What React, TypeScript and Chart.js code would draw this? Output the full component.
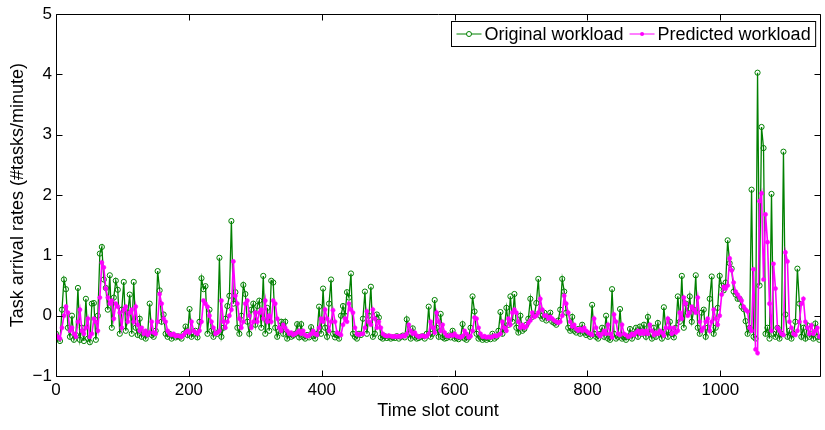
import React, { useEffect, useRef } from "react";
import { Chart, registerables } from "chart.js";

Chart.register(...registerables);

// One value every SLOT_STEP time slots (slot 0 .. 1149)
const SLOT_STEP = 3;

const originalWorkload = [
  -0.30, -0.38, -0.42, 0.10, 0.60, 0.44, -0.20, -0.35, 0.00, -0.40,
  -0.32, 0.46, -0.40, -0.20, -0.42, 0.28, -0.38, -0.44, 0.20, 0.21,
  -0.40, 0.00, 1.03, 1.14, 0.60, 0.46, 0.10, 0.67, -0.20, 0.30,
  0.58, 0.43, -0.30, 0.10, 0.56, -0.25, 0.05, 0.35, -0.30, 0.56,
  -0.20, -0.32, -0.05, -0.35, -0.28, -0.38, -0.30, 0.20, -0.32, -0.35,
  -0.25, 0.74, 0.42, -0.10, 0.02, -0.30, -0.35, -0.30, -0.38, -0.33,
  -0.36, -0.34, -0.35, -0.38, -0.30, -0.18, -0.32, 0.11, -0.35, -0.30,
  -0.25, -0.36, -0.10, 0.62, 0.44, 0.49, -0.30, 0.10, -0.25, -0.35,
  -0.28, -0.30, 0.96, -0.35, -0.20, -0.05, 0.16, 0.33, 1.57, 0.20,
  0.39, -0.20, -0.30, 0.00, 0.51, 0.36, -0.10, -0.30, 0.10, 0.20,
  -0.15, 0.16, 0.25, -0.20, 0.66, -0.30, 0.13, -0.25, 0.58, 0.55,
  -0.20, -0.35, -0.25, -0.10, -0.30, -0.10, -0.38, -0.30, -0.35, -0.33,
  -0.30, -0.14, -0.36, -0.14, -0.35, -0.38, -0.32, -0.36, -0.19, -0.34,
  -0.38, -0.30, 0.15, -0.30, 0.45, -0.20, -0.35, 0.20, 0.60, -0.30,
  -0.36, -0.32, -0.38, 0.00, 0.16, 0.00, 0.39, 0.30, 0.70, -0.30,
  -0.35, -0.38, -0.30, -0.32, -0.05, 0.40, -0.30, 0.00, 0.48, -0.35,
  -0.30, 0.02, -0.03, -0.36, -0.38, -0.34, -0.37, -0.35, -0.38, -0.36,
  -0.37, -0.34, -0.38, -0.35, -0.33, -0.36, -0.06, -0.30, -0.38, -0.21,
  -0.35, -0.38, -0.37, -0.35, -0.34, -0.38, -0.30, 0.15, -0.35, -0.30,
  0.26, -0.20, -0.35, 0.03, -0.36, -0.38, -0.37, -0.33, -0.36, -0.25,
  -0.38, -0.37, -0.39, -0.36, -0.14, -0.38, -0.40, -0.36, -0.20, 0.32,
  0.07, -0.30, -0.38, -0.36, -0.40, -0.38, -0.40, -0.37, -0.39, -0.30,
  -0.38, -0.35, -0.25, 0.06, -0.30, -0.20, 0.13, -0.15, 0.32, -0.10,
  0.36, -0.20, -0.28, 0.00, -0.25, -0.22, -0.15, -0.05, 0.28, -0.02,
  0.00, 0.21, 0.61, 0.00, -0.05, 0.05, -0.08, -0.02, 0.05, -0.10,
  -0.12, -0.15, -0.08, 0.10, 0.61, 0.40, 0.05, -0.20, -0.25, -0.02,
  -0.25, -0.28, -0.22, -0.30, -0.15, -0.28, -0.32, -0.30, -0.35, 0.18,
  -0.30, -0.35, -0.38, -0.30, -0.20, -0.35, 0.00, -0.38, -0.40, 0.44,
  -0.30, -0.38, -0.35, 0.11, -0.38, -0.36, -0.40, -0.35, -0.22, -0.38,
  -0.30, -0.20, -0.35, -0.18, -0.30, -0.15, -0.35, -0.02, -0.30, -0.38,
  -0.20, -0.35, -0.12, -0.30, -0.38, 0.14, -0.25, -0.35, -0.10, -0.30,
  -0.36, -0.20, 0.32, -0.10, 0.66, -0.20, 0.20, 0.05, 0.32, -0.10,
  0.10, 0.67, -0.20, -0.30, 0.05, 0.10, -0.35, -0.20, 0.28, 0.65,
  -0.30, -0.20, 0.13, 0.66, 0.50, 0.42, 0.55, 1.25, 0.87, 0.78,
  0.40, 0.35, 0.28, 0.28, 0.15, 0.11, -0.09, -0.30, -0.20, 2.09,
  -0.35, -0.38, 4.03, 0.50, 3.13, 2.78, -0.30, -0.20, -0.38, 2.02,
  -0.30, -0.35, -0.20, -0.38, -0.30, 2.72, 0.02, -0.35, -0.25, -0.38,
  -0.30, -0.10, 0.78, 0.20, -0.35, -0.20, -0.38, -0.16, -0.35, -0.30,
  -0.38, -0.13, -0.35, -0.40,
];

const predictedWorkload = [
  -0.32, -0.35, -0.38, -0.20, 0.00, 0.15, 0.05, -0.25, -0.20, -0.30,
  -0.35, -0.10, 0.10, -0.25, -0.30, -0.20, -0.05, -0.35, -0.30, -0.05,
  -0.10, -0.25, 0.30, 0.88, 0.80, 0.45, 0.30, 0.20, 0.25, -0.05,
  0.20, 0.15, 0.05, -0.20, 0.10, 0.15, -0.10, 0.05, 0.10, -0.10,
  0.15, -0.15, -0.25, -0.20, -0.30, -0.25, -0.32, -0.28, -0.10, -0.28,
  -0.30, -0.10, 0.36, 0.20, -0.05, -0.10, -0.25, -0.30, -0.32, -0.30,
  -0.34, -0.33, -0.34, -0.35, -0.32, -0.28, -0.25, -0.28, -0.10, -0.25,
  -0.28, -0.30, -0.25, -0.10, 0.25, 0.20, 0.15, 0.00, -0.10, -0.20,
  -0.30, -0.28, -0.25, 0.25, -0.10, -0.20, -0.10, 0.00, 0.10, 0.90,
  0.33, 0.20, -0.05, -0.20, -0.10, 0.20, 0.25, 0.00, -0.20, -0.10,
  0.05, -0.10, 0.05, 0.10, -0.05, 0.25, -0.10, 0.00, -0.10, 0.25,
  0.20, -0.05, -0.20, -0.25, -0.15, -0.20, -0.25, -0.30, -0.28, -0.32,
  -0.30, -0.28, -0.25, -0.30, -0.25, -0.32, -0.34, -0.33, -0.30, -0.25,
  -0.30, -0.32, -0.20, -0.05, -0.10, 0.10, -0.05, -0.25, -0.10, 0.09,
  -0.10, -0.28, -0.30, -0.32, -0.15, -0.05, -0.10, 0.20, 0.10, 0.05,
  -0.20, -0.30, -0.32, -0.30, -0.30, -0.20, 0.07, -0.10, -0.15, 0.10,
  -0.05, -0.20, -0.10, -0.20, -0.30, -0.33, -0.34, -0.33, -0.34, -0.35,
  -0.34, -0.35, -0.34, -0.35, -0.33, -0.34, -0.30, -0.15, -0.25, -0.30,
  -0.28, -0.33, -0.35, -0.34, -0.33, -0.35, -0.34, -0.30, -0.10, -0.20,
  -0.28, 0.05, -0.10, -0.25, -0.15, -0.28, -0.33, -0.34, -0.32, -0.33,
  -0.30, -0.34, -0.35, -0.36, -0.34, -0.25, -0.30, -0.36, -0.34, -0.25,
  -0.03, -0.05, -0.20, -0.30, -0.35, -0.34, -0.36, -0.35, -0.36, -0.35,
  -0.33, -0.34, -0.32, -0.30, -0.10, -0.20, -0.25, -0.05, -0.15, 0.05,
  0.10, 0.05, -0.10, -0.20, -0.15, -0.20, -0.18, -0.12, -0.08, 0.05,
  -0.02, 0.00, 0.05, 0.28, 0.10, 0.00, 0.00, -0.05, -0.02, -0.05,
  -0.08, -0.10, -0.12, -0.10, 0.00, 0.33, 0.20, 0.05, -0.10, -0.18,
  -0.15, -0.22, -0.25, -0.22, -0.25, -0.20, -0.25, -0.28, -0.30, -0.32,
  -0.05, -0.20, -0.30, -0.34, -0.30, -0.25, -0.30, -0.15, -0.30, -0.36,
  0.02, -0.10, -0.30, -0.32, -0.15, -0.30, -0.32, -0.35, -0.34, -0.30,
  -0.32, -0.28, -0.25, -0.30, -0.25, -0.30, -0.25, -0.30, -0.15, -0.25,
  -0.32, -0.28, -0.30, -0.25, -0.28, -0.33, -0.20, -0.05, -0.20, -0.30,
  -0.20, -0.28, -0.25, 0.05, -0.05, 0.30, 0.20, 0.00, 0.05, 0.15,
  0.10, 0.05, 0.30, -0.10, -0.25, -0.20, -0.10, -0.05, -0.25, -0.10,
  0.10, -0.05, -0.15, 0.00, 0.35, 0.48, 0.45, 0.50, 0.95, 0.75,
  0.55, 0.40, 0.35, 0.30, 0.25, 0.15, 0.10, 0.07, -0.20, -0.25,
  0.77, -0.56, -0.62, 1.90, 2.03, 0.60, 1.68, 1.22, 0.20, -0.25,
  0.86, 0.45, -0.20, -0.25, -0.30, -0.32, 1.05, 0.90, -0.10, -0.20,
  -0.30, -0.32, -0.25, -0.10, 0.20, 0.28, -0.10, -0.20, -0.30, -0.16,
  -0.30, -0.25, -0.20, -0.35,
];

const seriesNames = ["Original workload", "Predicted workload"];
const xTicks = [0, 200, 400, 600, 800, 1000];
const yTicks = [-1, 0, 1, 2, 3, 4, 5];
const xTitle = "Time slot count";
const yTitle = "Task arrival rates (#tasks/minute)";

const GREEN = "rgb(0,128,0)";
const MAGENTA = "rgb(255,0,255)";
const FONT = "'Liberation Sans', Arial, Helvetica, sans-serif";

const toPoints = (vals: number[]) => vals.map((v, i) => ({ x: i * SLOT_STEP, y: v }));

const framePlugin = {
  id: "matlabFrame",
  afterDatasetsDraw(chart: any) {
    const { ctx, chartArea: a, scales } = chart;
    const xs = scales.x;
    const ys = scales.y;
    ctx.save();
    ctx.strokeStyle = "#000";
    ctx.lineWidth = 1;
    const L = Math.round(a.left) + 0.5;
    const R = Math.round(a.right) + 0.5;
    const T = Math.round(a.top) + 0.5;
    const B = Math.round(a.bottom) + 0.5;
    ctx.beginPath();
    ctx.rect(L, T, R - L, B - T);
    const tl = 6;
    for (const t of xTicks) {
      const px = Math.round(xs.getPixelForValue(t)) + 0.5;
      ctx.moveTo(px, B);
      ctx.lineTo(px, B - tl);
      ctx.moveTo(px, T);
      ctx.lineTo(px, T + tl);
    }
    for (const t of yTicks) {
      const py = Math.round(ys.getPixelForValue(t)) + 0.5;
      ctx.moveTo(L, py);
      ctx.lineTo(L + tl, py);
      ctx.moveTo(R, py);
      ctx.lineTo(R - tl, py);
    }
    ctx.stroke();

    // legend
    ctx.font = "18px " + FONT;
    const w1 = ctx.measureText(seriesNames[0]).width;
    const w2 = ctx.measureText(seriesNames[1]).width;
    const lineLen = 25;
    const total = 5 + lineLen + 3 + w1 + 6 + lineLen + 3 + w2 + 5;
    const bx = Math.round(a.right - 5 - total) + 0.5;
    const by = Math.round(a.top + 7) + 0.5;
    const bh = 25;
    ctx.fillStyle = "#fff";
    ctx.fillRect(bx, by, total, bh);
    ctx.strokeStyle = "#000";
    ctx.strokeRect(bx, by, total, bh);
    const cy = by + bh / 2;
    const items = [
      { color: GREEN, text: seriesNames[0], w: w1, hollow: true },
      { color: MAGENTA, text: seriesNames[1], w: w2, hollow: false },
    ];
    let cx = bx + 5;
    items.forEach((it, idx) => {
      ctx.strokeStyle = it.color;
      ctx.lineWidth = 1;
      ctx.beginPath();
      ctx.moveTo(cx, cy);
      ctx.lineTo(cx + lineLen, cy);
      ctx.stroke();
      ctx.beginPath();
      if (it.hollow) {
        ctx.arc(cx + lineLen / 2, cy, 2.5, 0, Math.PI * 2);
        ctx.fillStyle = "#fff";
        ctx.fill();
        ctx.stroke();
      } else {
        ctx.arc(cx + lineLen / 2, cy, 2, 0, Math.PI * 2);
        ctx.fillStyle = it.color;
        ctx.fill();
      }
      ctx.fillStyle = "#000";
      ctx.textBaseline = "middle";
      ctx.textAlign = "left";
      ctx.fillText(it.text, cx + lineLen + 3, cy + 1);
      cx += lineLen + 3 + it.w + (idx === 0 ? 6 : 0);
    });
    ctx.restore();
  },
};

export default function App() {
  const canvasRef = useRef<HTMLCanvasElement | null>(null);

  useEffect(() => {
    const canvas = canvasRef.current;
    if (!canvas) return;
    const chart = new Chart(canvas, {
      type: "line",
      data: {
        datasets: [
          {
            label: seriesNames[0],
            data: toPoints(originalWorkload),
            borderColor: GREEN,
            borderWidth: 1.3,
            pointRadius: 2.6,
            pointBorderWidth: 1,
            pointBorderColor: GREEN,
            pointBackgroundColor: "rgba(255,255,255,0)",
            tension: 0,
            order: 1,
          },
          {
            label: seriesNames[1],
            data: toPoints(predictedWorkload),
            borderColor: MAGENTA,
            borderWidth: 1.6,
            pointRadius: 2.1,
            pointBorderWidth: 0.5,
            pointBorderColor: MAGENTA,
            pointBackgroundColor: MAGENTA,
            tension: 0,
            order: 0,
          },
        ],
      },
      options: {
        responsive: false,
        animation: false,
        events: [],
        layout: { padding: { top: 12, right: 3, left: 0, bottom: 0 } },
        plugins: {
          legend: { display: false },
          tooltip: { enabled: false },
        },
        scales: {
          x: {
            type: "linear",
            min: 0,
            max: 1150,
            afterBuildTicks: (scale: any) => {
              scale.ticks = xTicks.map((v) => ({ value: v }));
            },
            afterFit: (scale: any) => {
              scale.height = 54;
            },
            grid: { display: false, drawTicks: false },
            border: { display: false },
            ticks: {
              padding: 4,
              maxRotation: 0,
              autoSkip: false,
              color: "#000",
              font: { family: FONT, size: 17 },
              callback: (v: any) => String(v),
            },
            title: {
              display: true,
              text: xTitle,
              color: "#000",
              font: { family: FONT, size: 18 },
              padding: { top: 0, bottom: 8 },
            },
          },
          y: {
            type: "linear",
            min: -1,
            max: 5,
            afterBuildTicks: (scale: any) => {
              scale.ticks = yTicks.map((v) => ({ value: v }));
            },
            afterFit: (scale: any) => {
              scale.width = 56;
            },
            grid: { display: false, drawTicks: false },
            border: { display: false },
            ticks: {
              padding: 4,
              color: "#000",
              font: { family: FONT, size: 17 },
              callback: (v: any) => (Number(v) < 0 ? "\u2212" + Math.abs(Number(v)) : String(v)),
            },
            title: {
              display: true,
              text: yTitle,
              color: "#000",
              font: { family: FONT, size: 18 },
              padding: { top: 7, bottom: 0 },
            },
          },
        },
      },
      plugins: [framePlugin],
    });
    return () => chart.destroy();
  }, []);

  return (
    <div style={{ position: "fixed", left: 0, top: 0, width: 825, height: 430, background: "#fff" }}>
      <canvas ref={canvasRef} width={825} height={430} style={{ display: "block" }} />
    </div>
  );
}
